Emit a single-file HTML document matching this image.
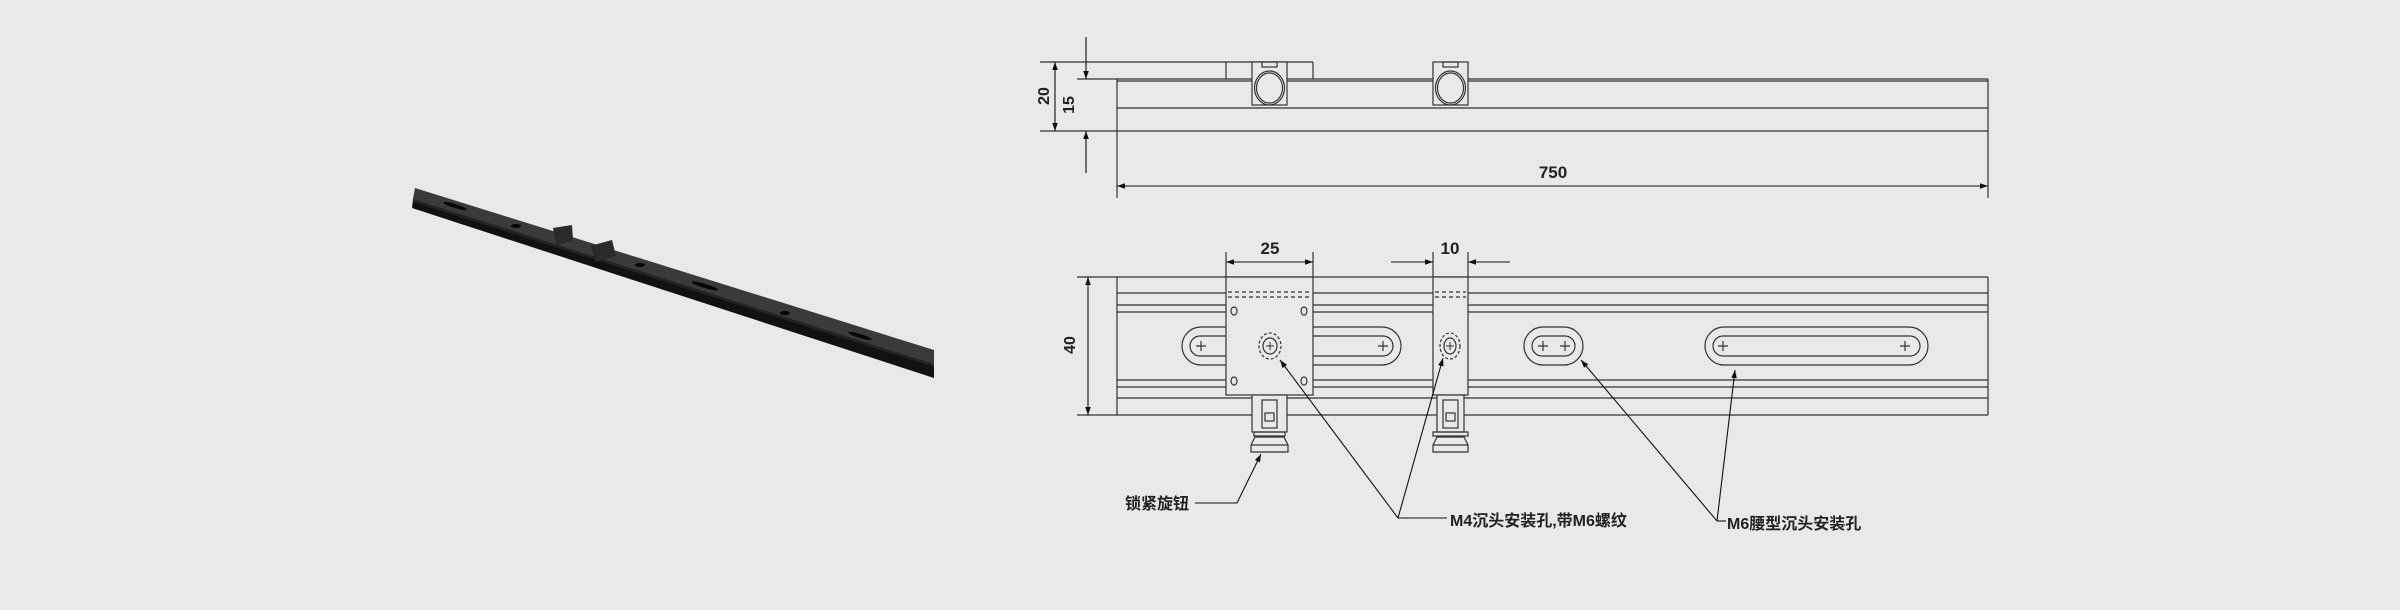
<!DOCTYPE html>
<html><head><meta charset="utf-8"><style>
html,body{margin:0;padding:0;background:#e9e9e9}
svg{display:block}
text{font-family:"Liberation Sans","Noto Sans CJK SC",sans-serif;font-weight:bold;fill:#222}
</style></head><body>
<svg width="2400" height="610" viewBox="0 0 2400 610" xmlns="http://www.w3.org/2000/svg">
<defs>
<marker id="a" viewBox="0 0 10 10" refX="10" refY="5" markerWidth="14" markerHeight="8" markerUnits="userSpaceOnUse" orient="auto-start-reverse"><path d="M0,1.5 L10,5 L0,8.5z" fill="#111"/></marker>
</defs>
<rect width="2400" height="610" fill="#e9e9e9"/>
<!-- 3D rail -->
<polygon points="415,188 934,350 934,364 413,199" fill="#3a3a3a"/>
<polygon points="413,199 934,364 934,378 412,208" fill="#111"/>
<polygon points="413,199 934,364 934,367 413,202" fill="#222"/>
<ellipse cx="455" cy="206" rx="12" ry="2" fill="#050505" transform="rotate(17 455 206)"/>
<ellipse cx="516" cy="226" rx="5" ry="2" fill="#050505"/>
<ellipse cx="640" cy="265" rx="5" ry="2" fill="#050505"/>
<ellipse cx="705" cy="286" rx="14" ry="2" fill="#050505" transform="rotate(17 705 286)"/>
<ellipse cx="785" cy="313" rx="5" ry="2" fill="#050505"/>
<ellipse cx="860" cy="336" rx="12" ry="2" fill="#050505" transform="rotate(17 860 336)"/>
<polygon points="553,228 572,225 573,240 556,246" fill="#2a2a2a"/>
<polygon points="590,246 612,240 616,256 596,262" fill="#2a2a2a"/>

<g stroke="#333" fill="none" stroke-width="1.2">
<!-- TOP VIEW -->
<line x1="1040" y1="62" x2="1313" y2="62"/>
<line x1="1226" y1="62" x2="1226" y2="79"/><line x1="1313" y1="62" x2="1313" y2="79"/>
<line x1="1077" y1="79" x2="1988" y2="79"/><line x1="1117" y1="81" x2="1988" y2="81"/>
<line x1="1117" y1="108" x2="1988" y2="108"/>
<line x1="1040" y1="131" x2="1988" y2="131"/>
<line x1="1117" y1="79" x2="1117" y2="198"/>
<line x1="1988" y1="79" x2="1988" y2="198"/>
<rect x="1252" y="62" width="35" height="43" fill="#e9e9e9"/>
<rect x="1262" y="62" width="15" height="5"/>
<ellipse cx="1269.5" cy="88" rx="15" ry="17"/><ellipse cx="1269.5" cy="88" rx="13" ry="15"/>
<rect x="1433" y="62" width="35" height="43" fill="#e9e9e9"/>
<rect x="1443" y="62" width="15" height="5"/>
<ellipse cx="1450.5" cy="88" rx="15" ry="17"/><ellipse cx="1450.5" cy="88" rx="13" ry="15"/>
</g>
<g stroke="#111" stroke-width="1.1" fill="none">
<line x1="1055" y1="62" x2="1055" y2="131" marker-start="url(#a)" marker-end="url(#a)"/>
<line x1="1086" y1="37" x2="1086" y2="79" marker-end="url(#a)"/>
<line x1="1086" y1="173" x2="1086" y2="131" marker-end="url(#a)"/>
<line x1="1117" y1="186" x2="1988" y2="186" marker-start="url(#a)" marker-end="url(#a)"/>
</g>
<text x="1049" y="96" font-size="16" text-anchor="middle" transform="rotate(-90 1049 96)">20</text>
<text x="1074" y="105" font-size="16" text-anchor="middle" transform="rotate(-90 1074 105)">15</text>
<text x="1553" y="178" font-size="17" text-anchor="middle">750</text>

<!-- FRONT VIEW -->
<g stroke="#333" fill="none" stroke-width="1.2">
<line x1="1077" y1="277" x2="1988" y2="277"/>
<line x1="1117" y1="293" x2="1988" y2="293"/>
<line x1="1117" y1="305" x2="1988" y2="305"/>
<line x1="1117" y1="312" x2="1988" y2="312"/>
<line x1="1117" y1="380" x2="1988" y2="380"/>
<line x1="1117" y1="387" x2="1988" y2="387"/>
<line x1="1117" y1="398" x2="1988" y2="398"/>
<line x1="1077" y1="415" x2="1988" y2="415"/>
<line x1="1117" y1="277" x2="1117" y2="415"/>
<line x1="1988" y1="277" x2="1988" y2="415"/>
<!-- slots -->
<rect x="1182" y="327" width="219" height="38" rx="19"/>
<rect x="1190" y="336" width="203" height="20" rx="10"/>
<rect x="1524" y="327" width="59" height="38" rx="19"/>
<rect x="1532" y="336" width="43" height="20" rx="10"/>
<rect x="1705" y="327" width="223" height="38" rx="19"/>
<rect x="1713" y="336" width="207" height="20" rx="10"/>
<path d="M1196,346h10M1201,341v10M1378,346h10M1383,341v10M1538,346h10M1543,341v10M1560,346h10M1565,341v10M1718,346h10M1723,341v10M1900,346h10M1905,341v10"/>
<!-- block1 -->
<rect x="1226" y="277" width="87" height="118" fill="#e9e9e9"/>
<path d="M1228,292h83M1228,297h83" stroke-dasharray="4,3"/>
<ellipse cx="1234" cy="311" rx="3" ry="4"/><ellipse cx="1304" cy="311" rx="3" ry="4"/>
<ellipse cx="1234" cy="381" rx="3" ry="4"/><ellipse cx="1304" cy="381" rx="3" ry="4"/>
<ellipse cx="1270" cy="346" rx="7" ry="8"/>
<ellipse cx="1270" cy="346" rx="11" ry="13" stroke-dasharray="3,2"/>
<path d="M1266,346h8M1270,342v8" stroke-width="1"/>
<rect x="1252" y="395" width="35" height="37" fill="#e9e9e9"/>
<rect x="1262" y="400" width="15" height="28"/>
<rect x="1265" y="413" width="9" height="8"/>
<path d="M1254,432h31v4h-31z"/>
<path d="M1255,437h29l4,8v7h-37v-7z" fill="#e9e9e9"/>
<line x1="1251" y1="445" x2="1288" y2="445"/>
<!-- block2 -->
<rect x="1433" y="277" width="35" height="118" fill="#e9e9e9"/>
<path d="M1435,292h31M1435,297h31" stroke-dasharray="4,3"/>
<ellipse cx="1450" cy="346" rx="6" ry="8"/>
<ellipse cx="1450" cy="346" rx="10" ry="13" stroke-dasharray="3,2"/>
<path d="M1446,346h8M1450,342v8" stroke-width="1"/>
<rect x="1437" y="395" width="27" height="37" fill="#e9e9e9"/>
<rect x="1443" y="400" width="15" height="28"/>
<rect x="1446" y="413" width="9" height="8"/>
<path d="M1433,432h35v4h-35z"/>
<path d="M1437,437h27l4,8v7h-35v-7z" fill="#e9e9e9"/>
<line x1="1433" y1="445" x2="1468" y2="445"/>
<!-- ext lines -->
<line x1="1226" y1="252" x2="1226" y2="277"/><line x1="1313" y1="252" x2="1313" y2="277"/>
<line x1="1433" y1="252" x2="1433" y2="277"/><line x1="1468" y1="252" x2="1468" y2="277"/>
</g>
<g stroke="#111" stroke-width="1.1" fill="none">
<line x1="1088" y1="277" x2="1088" y2="415" marker-start="url(#a)" marker-end="url(#a)"/>
<line x1="1226" y1="262" x2="1313" y2="262" marker-start="url(#a)" marker-end="url(#a)"/>
<line x1="1391" y1="262" x2="1433" y2="262" marker-end="url(#a)"/>
<line x1="1510" y1="262" x2="1468" y2="262" marker-end="url(#a)"/>
<!-- leaders -->
<polyline points="1195,503 1237,503 1261,454" marker-end="url(#a)"/>
<line x1="1398" y1="518" x2="1280" y2="360" marker-end="url(#a)"/>
<line x1="1398" y1="518" x2="1443" y2="358" marker-end="url(#a)"/>
<line x1="1398" y1="518" x2="1447" y2="518"/>
<line x1="1717" y1="521" x2="1581" y2="360" marker-end="url(#a)"/>
<line x1="1717" y1="521" x2="1735" y2="370" marker-end="url(#a)"/>
<line x1="1717" y1="521" x2="1726" y2="521"/>
</g>
<text x="1075" y="345" font-size="16" text-anchor="middle" transform="rotate(-90 1075 345)">40</text>
<text x="1270" y="254" font-size="17" text-anchor="middle">25</text>
<text x="1450" y="254" font-size="17" text-anchor="middle">10</text>
<text x="1125" y="509" font-size="16">锁紧旋钮</text>
<text x="1450" y="526" font-size="16">M4沉头安装孔,带M6螺纹</text>
<text x="1727" y="529" font-size="16">M6腰型沉头安装孔</text>
</svg>
</body></html>
